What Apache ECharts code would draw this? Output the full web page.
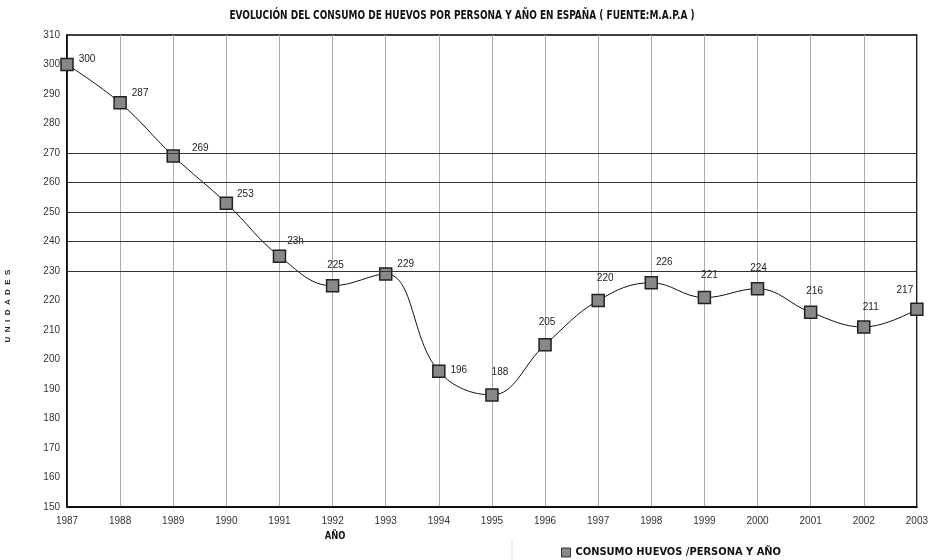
<!DOCTYPE html>
<html>
<head>
<meta charset="utf-8">
<script src="https://cdn.jsdelivr.net/npm/echarts@6/dist/echarts.min.js"></script>
<style>
  html, body { margin: 0; padding: 0; background: #fff; }
  #chart { width: 931px; height: 560px; }
</style>
</head>
<body>
<div id="chart"></div>
<script>
// datos
const years = ['1987','1988','1989','1990','1991','1992','1993','1994','1995','1996','1997','1998','1999','2000','2001','2002','2003']
const consumo = [300, 287, 269, 253, 235, 225, 229, 196, 188, 205, 220, 226, 221, 224, 216, 211, 217]
const labelTexts = ['300','287','269','253','23h','225','229','196','188','205','220','226','221','224','216','211','217']
const refLines = [230, 240, 250, 260, 270]

const narrow = "'Liberation Sans Narrow', 'DejaVu Sans Condensed', Arial, sans-serif"

// desplazamiento de cada etiqueta respecto al punto
const labelOffsets = [[20,-5],[20,-10],[27,-8],[19,-9],[16,-15],[3,-21],[20,-10],[20,-1],[8,-23],[2,-23],[7,-22],[13,-21],[5,-22],[1,-20],[4,-21],[7,-20],[-12,-19]]

const chart = echarts.init(document.getElementById('chart'))

const option = {
  animation: false,
  grid: {
    left: 67, right: 14, top: 35, bottom: 53,
    show: true,
    borderColor: '#000',
    borderWidth: 1.5
  },
  legend: {
    left: 556,
    top: 542,
    itemWidth: 9,
    itemHeight: 9,
    itemGap: 8,
    icon: 'rect',
    textStyle: { fontFamily: narrow, fontWeight: 'bold', fontSize: 11, color: '#111' },
    data: [{ name: 'CONSUMO HUEVOS /PERSONA Y AÑO', itemStyle: { color: '#888', borderColor: '#333', borderWidth: 1 } }]
  },
  xAxis: {
    type: 'category',
    data: years,
    boundaryGap: false,
    axisLine: { lineStyle: { color: '#000', width: 1.5 } },
    axisTick: { show: false },
    axisLabel: { color: '#333', fontSize: 10, margin: 9, fontFamily: 'Arial, sans-serif' },
    splitLine: { show: true, lineStyle: { color: '#aaa', width: 1 } }
  },
  yAxis: {
    type: 'value',
    min: 150,
    max: 310,
    interval: 10,
    axisLine: { show: true, lineStyle: { color: '#000', width: 1.5 } },
    axisTick: { show: false },
    axisLabel: { color: '#333', fontSize: 10, margin: 7, fontFamily: 'Arial, sans-serif' },
    splitLine: { show: false }
  },
  graphic: [
    {
      type: 'text',
      x: 462, y: 16,
      scaleX: 0.83,
      style: {
        text: 'EVOLUCIÓN DEL CONSUMO DE HUEVOS POR PERSONA Y AÑO EN ESPAÑA ( FUENTE:M.A.P.A )',
        font: "bold 12px " + narrow,
        fill: '#111',
        textAlign: 'center',
        textVerticalAlign: 'middle'
      }
    },
    {
      type: 'text',
      x: 8, y: 306,
      rotation: Math.PI / 2,
      style: {
        text: 'U  N  I  D  A  D  E  S',
        font: "bold 8px 'Liberation Sans', Arial, sans-serif",
        fill: '#222',
        textAlign: 'center',
        textVerticalAlign: 'middle'
      }
    },
    {
      type: 'text',
      x: 335, y: 536,
      scaleX: 0.85,
      style: {
        text: 'AÑO',
        font: "bold 11px " + narrow,
        fill: '#111',
        textAlign: 'center',
        textVerticalAlign: 'middle'
      }
    },
    {
      type: 'line',
      shape: { x1: 512, y1: 540, x2: 512, y2: 560 },
      style: { stroke: '#ddd', lineWidth: 1 }
    }
  ],
  series: [
    {
      name: 'CONSUMO HUEVOS /PERSONA Y AÑO',
      type: 'line',
      smooth: 0.4,
      data: consumo.map((v, i) => ({
        value: v,
        label: { offset: labelOffsets[i], formatter: labelTexts[i] }
      })),
      symbol: 'rect',
      symbolSize: 12,
      lineStyle: { color: '#111', width: 1 },
      itemStyle: { color: '#888', borderColor: '#222', borderWidth: 1.5 },
      label: {
        show: true,
        position: 'inside',
        align: 'center',
        verticalAlign: 'middle',
        color: '#222',
        fontSize: 10,
        fontFamily: 'Arial, sans-serif'
      },
      markLine: {
        silent: true,
        symbol: ['none', 'none'],
        label: { show: false },
        lineStyle: { color: '#333', width: 1, type: 'solid' },
        data: refLines.map(v => ({ yAxis: v }))
      },
      z: 3
    }
  ]
}

chart.setOption(option)
</script>
</body>
</html>
